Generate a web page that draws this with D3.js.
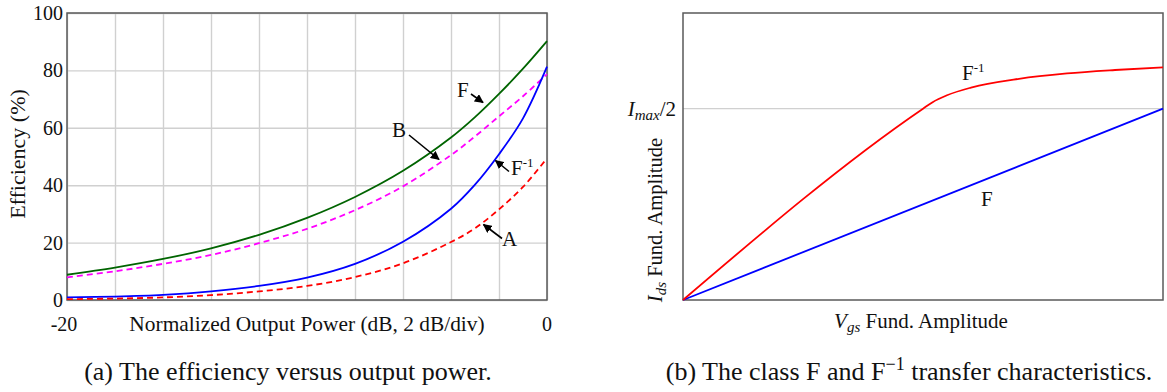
<!DOCTYPE html>
<html>
<head>
<meta charset="utf-8">
<script src="https://cdn.jsdelivr.net/npm/d3@7"></script>
<style>
  body { margin: 0; background: #fff; }
  svg text { font-family: "Liberation Serif", "Times New Roman", serif; fill: #111; }
</style>
</head>
<body>
<div id="chart"></div>
<script>
// (a) efficiency vs output power
const powerDb = [-20, -18, -16, -14, -12, -10, -8, -6, -4, -3, -2, -1, 0];
const effF    = [8.8, 11.3, 14.3, 18.0, 22.7, 28.6, 35.9, 45.0, 56.6, 63.7, 71.8, 80.6, 90.2];
const effB    = [7.9, 10.0, 12.6, 15.7, 19.8, 24.8, 31.3, 39.6, 50.5, 57.0, 64.0, 71.0, 78.7];
const effFinv = [0.9, 1.2, 1.8, 3.0, 4.9, 7.8, 12.6, 20.3, 31.8, 40.2, 50.8, 63.3, 81.3];
const effA    = [0.3, 0.5, 0.9, 1.7, 3.0, 4.9, 8.0, 12.8, 20.2, 25.0, 31.6, 39.4, 49.4];
const effTicks = [0, 20, 40, 60, 80, 100];

// (b) transfer characteristics (x, y normalised, Imax/2 = 0.5)
const vgsF    = [0, 1];
const idsF    = [0, 0.5];
const vgsFinv = [0, 0.5, 0.52, 0.55, 0.6, 0.7, 0.8, 0.9, 1.0];
const idsFinv = [0, 0.5, 0.517, 0.535, 0.555, 0.578, 0.592, 0.601, 0.608];

window.onload = () => {
  const svg = d3.select("#chart").append("svg")
    .attr("width", 1167)
    .attr("height", 392);

  svg.append("defs").append("marker")
    .attr("id", "arrow")
    .attr("viewBox", "0 0 10 10")
    .attr("refX", 9).attr("refY", 5)
    .attr("markerWidth", 9).attr("markerHeight", 9)
    .attr("markerUnits", "userSpaceOnUse")
    .attr("orient", "auto")
    .append("path")
    .attr("d", "M0,0 L10,5 L0,10 z")
    .attr("fill", "#000");

  drawEfficiency(svg);
  drawTransfer(svg);
};

function drawEfficiency(svg) {
  const left = 67, top = 13, width = 480, height = 287;
  const g = svg.append("g").attr("transform", `translate(${left},${top})`);

  const x = d3.scaleLinear().domain([-20, 0]).range([0, width]);
  const y = d3.scaleLinear().domain([0, 100]).range([height, 0]);

  // grid
  g.append("g")
    .attr("transform", `translate(0,${height})`)
    .call(d3.axisBottom(x).ticks(10).tickSize(-height).tickFormat(""))
    .call(a => a.select(".domain").remove())
    .selectAll("line").attr("stroke", "#d0d0d0").attr("stroke-width", 1.4);
  g.append("g")
    .call(d3.axisLeft(y).tickValues(effTicks).tickSize(-width).tickFormat(""))
    .call(a => a.select(".domain").remove())
    .selectAll("line").attr("stroke", "#d0d0d0").attr("stroke-width", 1.4);

  g.append("rect")
    .attr("width", width).attr("height", height)
    .attr("fill", "none").attr("stroke", "#5a5a5a").attr("stroke-width", 1.5);

  // y tick labels
  g.selectAll(".ytick")
    .data(effTicks)
    .join("text")
    .attr("x", -4)
    .attr("y", d => y(d))
    .attr("dy", "0.35em")
    .attr("text-anchor", "end")
    .attr("font-size", 20)
    .text(d => d);

  // x tick labels only at the ends
  g.append("text").attr("x", x(-20) - 3).attr("y", 318)
    .attr("text-anchor", "middle").attr("font-size", 20).text("-20");
  g.append("text").attr("x", x(0)).attr("y", 318)
    .attr("text-anchor", "middle").attr("font-size", 20).text("0");

  g.append("text")
    .attr("x", width / 2).attr("y", 318)
    .attr("text-anchor", "middle").attr("font-size", 21.4)
    .text("Normalized Output Power (dB, 2 dB/div)");

  svg.append("text")
    .attr("transform", "translate(25,154) rotate(-90)")
    .attr("text-anchor", "middle").attr("font-size", 22)
    .text("Efficiency (%)");

  const series = [
    { values: effF, color: "#006400", dash: null },
    { values: effB, color: "#ff00ff", dash: "6,4" },
    { values: effFinv, color: "#0000ff", dash: null },
    { values: effA, color: "#ff0000", dash: "6,4" }
  ];

  const line = d3.line()
    .x(d => x(d[0]))
    .y(d => y(d[1]))
    .curve(d3.curveCatmullRom.alpha(0.5));

  g.selectAll(".curve")
    .data(series)
    .join("path")
    .attr("d", s => line(powerDb.map((p, i) => [p, s.values[i]])))
    .attr("fill", "none")
    .attr("stroke", s => s.color)
    .attr("stroke-width", 1.8)
    .attr("stroke-dasharray", s => s.dash);

  // annotations (page coordinates)
  const notes = [
    { label: "F", tx: 457, ty: 97, from: [471, 94], to: [483, 102.5] },
    { label: "B", tx: 392, ty: 137, from: [409, 135], to: [439, 159.5] },
    { label: "F", sup: "-1", tx: 511, ty: 175, from: [509, 171.5], to: [495.5, 160.5] },
    { label: "A", tx: 502, ty: 246, from: [502, 238.5], to: [483.5, 224.5] }
  ];
  notes.forEach(n => {
    svg.append("line")
      .attr("x1", n.from[0]).attr("y1", n.from[1])
      .attr("x2", n.to[0]).attr("y2", n.to[1])
      .attr("stroke", "#000").attr("stroke-width", 1.6)
      .attr("marker-end", "url(#arrow)");
    const t = svg.append("text")
      .attr("x", n.tx).attr("y", n.ty)
      .attr("font-size", 21)
      .text(n.label);
    if (n.sup) {
      t.append("tspan").attr("font-size", 13).attr("dy", -8).text(n.sup);
    }
  });

  svg.append("text")
    .attr("x", 288).attr("y", 380)
    .attr("text-anchor", "middle").attr("font-size", 26)
    .text("(a) The efficiency versus output power.");
}

function drawTransfer(svg) {
  const left = 683, top = 13, width = 480, height = 287;
  const g = svg.append("g").attr("transform", `translate(${left},${top})`);

  const x = d3.scaleLinear().domain([0, 1]).range([0, width]);
  const y = d3.scaleLinear().domain([0, 0.75]).range([height, 0]);

  g.append("line")
    .attr("x1", 0).attr("x2", width)
    .attr("y1", y(0.5)).attr("y2", y(0.5))
    .attr("stroke", "#d0d0d0").attr("stroke-width", 1.4);

  g.append("rect")
    .attr("width", width).attr("height", height)
    .attr("fill", "none").attr("stroke", "#5a5a5a").attr("stroke-width", 1.5);

  const line = d3.line()
    .x(d => x(d[0]))
    .y(d => y(d[1]))
    .curve(d3.curveMonotoneX);

  g.append("path")
    .attr("d", line(vgsF.map((v, i) => [v, idsF[i]])))
    .attr("fill", "none").attr("stroke", "#0000ff").attr("stroke-width", 1.8);
  g.append("path")
    .attr("d", line(vgsFinv.map((v, i) => [v, idsFinv[i]])))
    .attr("fill", "none").attr("stroke", "#ff0000").attr("stroke-width", 1.8);

  // Imax/2 tick label
  const ty = g.append("text")
    .attr("x", -7).attr("y", y(0.5)).attr("dy", "0.35em")
    .attr("text-anchor", "end").attr("font-size", 21);
  ty.append("tspan").attr("font-style", "italic").text("I");
  ty.append("tspan").attr("font-style", "italic").attr("font-size", 15).attr("dy", 4).text("max");
  ty.append("tspan").attr("dy", -4).text("/2");

  // curve labels
  const l1 = svg.append("text").attr("x", 962).attr("y", 80).attr("font-size", 21).text("F");
  l1.append("tspan").attr("font-size", 13).attr("dy", -8).text("-1");
  svg.append("text").attr("x", 981).attr("y", 206).attr("font-size", 21).text("F");

  // axis labels
  const xl = svg.append("text")
    .attr("x", 921).attr("y", 328)
    .attr("text-anchor", "middle").attr("font-size", 21);
  xl.append("tspan").attr("font-style", "italic").text("V");
  xl.append("tspan").attr("font-style", "italic").attr("font-size", 15).attr("dy", 4).text("gs");
  xl.append("tspan").attr("dy", -4).text(" Fund. Amplitude");

  const yl = svg.append("text")
    .attr("transform", "translate(662,220) rotate(-90)")
    .attr("text-anchor", "middle").attr("font-size", 20.5);
  yl.append("tspan").attr("font-style", "italic").text("I");
  yl.append("tspan").attr("font-style", "italic").attr("font-size", 15).attr("dy", 4).text("ds");
  yl.append("tspan").attr("dy", -4).text(" Fund. Amplitude");

  const cap = svg.append("text")
    .attr("x", 909).attr("y", 380)
    .attr("text-anchor", "middle").attr("font-size", 26);
  cap.append("tspan").text("(b) The class F and F");
  cap.append("tspan").attr("font-size", 18).attr("dy", -10).text("\u22121");
  cap.append("tspan").attr("dy", 10).text(" transfer characteristics.");
}
</script>
</body>
</html>
